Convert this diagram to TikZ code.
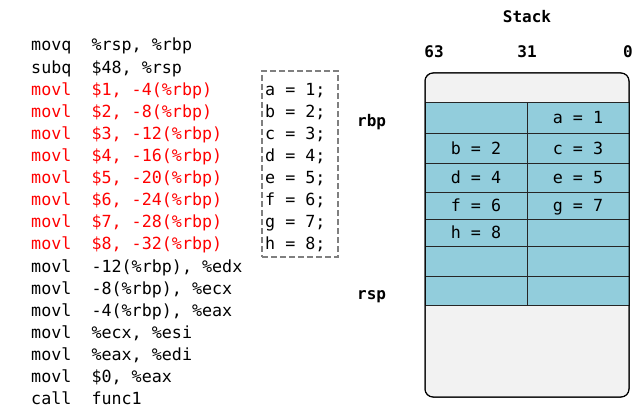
\documentclass[tikz,border=0pt]{standalone}
\usepackage{fontspec}
\setmonofont{DejaVu Sans Mono}
\definecolor{cellblue}{HTML}{92CDDC}
\definecolor{stackgray}{HTML}{F2F2F2}
\definecolor{dashgray}{HTML}{7F7F7F}
\definecolor{codered}{HTML}{FF0000}
\begin{document}
\begin{tikzpicture}[x=1pt,y=-1pt,
  codefont/.style={font=\ttfamily\fontsize{16.7}{20}\selectfont},
  boldfont/.style={font=\ttfamily\bfseries\fontsize{16}{20}\selectfont},
  code/.style={codefont,anchor=base west,inner sep=0pt},
  redcode/.style={code,text=codered},
  lbl/.style={boldfont,anchor=base,inner sep=0pt},
  side/.style={boldfont,anchor=base west,inner sep=0pt},
  cell/.style={codefont,draw=black!85,line width=1pt,fill=cellblue,minimum width=102pt,
    inner sep=0pt,outer sep=0pt,text height=12pt,text depth=0pt},
  stackbox/.style={draw=black,line width=1pt,fill=stackgray,rounded corners=8pt,
    minimum width=204pt,minimum height=324pt,inner sep=0pt,outer sep=0pt},
  dashbox/.style={draw=dashgray,line width=1.4pt,dash pattern=on 6pt off 3pt,
    minimum width=76pt,minimum height=186pt,inner sep=0pt}
]
\useasboundingbox (0,0) rectangle (643,420);

% code listing
\node[code]    (c0)  at (31,51)    {movq~~\%rsp,~\%rbp};
\node[code]    (c1)  at (31,73.1)  {subq~~\$48,~\%rsp};
\node[redcode] (c2)  at (31,95.2)  {movl~~\$1,~-4(\%rbp)};
\node[redcode] (c3)  at (31,117.3) {movl~~\$2,~-8(\%rbp)};
\node[redcode] (c4)  at (31,139.4) {movl~~\$3,~-12(\%rbp)};
\node[redcode] (c5)  at (31,161.5) {movl~~\$4,~-16(\%rbp)};
\node[redcode] (c6)  at (31,183.6) {movl~~\$5,~-20(\%rbp)};
\node[redcode] (c7)  at (31,205.7) {movl~~\$6,~-24(\%rbp)};
\node[redcode] (c8)  at (31,227.8) {movl~~\$7,~-28(\%rbp)};
\node[redcode] (c9)  at (31,249.9) {movl~~\$8,~-32(\%rbp)};
\node[code]    (c10) at (31,272.0) {movl~~-12(\%rbp),~\%edx};
\node[code]    (c11) at (31,294.1) {movl~~-8(\%rbp),~\%ecx};
\node[code]    (c12) at (31,316.2) {movl~~-4(\%rbp),~\%eax};
\node[code]    (c13) at (31,338.3) {movl~~\%ecx,~\%esi};
\node[code]    (c14) at (31,360.4) {movl~~\%eax,~\%edi};
\node[code]    (c15) at (31,382.5) {movl~~\$0,~\%eax};
\node[code]    (c16) at (31,404.6) {call~~func1};

% C source box
\node[dashbox] (src) at (300,164) {};
\node[code] (va) at (265,95.2)  {a~=~1;};
\node[code] (vb) at (265,117.3) {b~=~2;};
\node[code] (vc) at (265,139.4) {c~=~3;};
\node[code] (vd) at (265,161.5) {d~=~4;};
\node[code] (ve) at (265,183.6) {e~=~5;};
\node[code] (vf) at (265,205.7) {f~=~6;};
\node[code] (vg) at (265,227.8) {g~=~7;};
\node[code] (vh) at (265,249.9) {h~=~8;};

% register labels
\node[side] (rbp) at (357,126) {rbp};
\node[side] (rsp) at (357,299) {rsp};

% stack header
\node[lbl] (title) at (527,23) {Stack};
\node[lbl] (b63) at (434,58) {63};
\node[lbl] (b31) at (527,58) {31};
\node[lbl] (b0)  at (628,58) {0};

% stack
\node[stackbox] (stack) at (527,235) {};
\foreach \t/\b/\l/\r [count=\i] in
  {103/133/{}/{a~=~1}, 133/163/{b~=~2}/{c~=~3}, 163/192/{d~=~4}/{e~=~5},
   192/219/{f~=~6}/{g~=~7}, 219/246/{h~=~8}/{}, 246/276/{}/{}, 276/305/{}/{}}{
  \pgfmathsetmacro\h{\b-\t}
  \pgfmathsetmacro\m{(\t+\b)/2}
  \node[cell,minimum height=\h pt] (L\i) at (476,\m) {\l};
  \node[cell,minimum height=\h pt] (R\i) at (578,\m) {\r};
}
\draw[line width=1pt,rounded corners=8pt] (stack.south west) rectangle (stack.north east);
\end{tikzpicture}
\end{document}
